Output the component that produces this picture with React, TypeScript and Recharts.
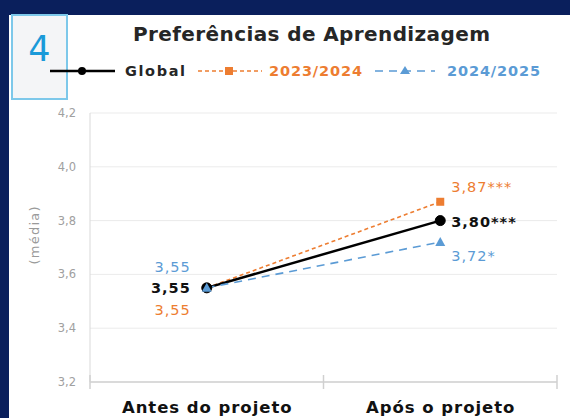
import { CartesianGrid, LabelList, Legend, Line, LineChart, XAxis, YAxis } from "recharts";

const categories = ["Antes do projeto", "Após o projeto"];
const globalValues = [3.55, 3.8];
const values2324 = [3.55, 3.87];
const values2425 = [3.55, 3.72];
const globalSig = ["", "***"];
const sig2324 = ["", "***"];
const sig2425 = ["", "*"];
const yTicks = [3.2, 3.4, 3.6, 3.8, 4.0, 4.2];
const xTicks = [0, 0.5, 1, 1.5, 2];

const NAVY = "#0a1f5c";
const ORANGE = "#ed7d31";
const BLUE = "#5b9bd5";
const FONT = "'DejaVu Sans', 'Liberation Sans', sans-serif";

const data = categories.map((name, i) => ({
  name,
  pos: i + 0.5,
  global: globalValues[i],
  y2324: values2324[i],
  y2425: values2425[i],
}));

const fmt = (v: number) => v.toFixed(2).replace(".", ",");

// label placement: left point labels sit to the left, right point labels to the right
const makeLabel =
  (color: string, sig: string[], dyLeft: number, dyRight: number, bold: boolean) => (props: any) => {
    const x = props.x ?? props.viewBox?.x;
    const y = props.y ?? props.viewBox?.y;
    const index = props.index ?? 0;
    const left = index === 0;
    return (
      <text
        x={left ? x - 16 : x + 11}
        y={y + (left ? dyLeft : dyRight)}
        dy="0.36em"
        textAnchor={left ? "end" : "start"}
        fill={color}
        fontSize={14.5}
        fontWeight={bold ? 700 : 400}
        letterSpacing={1}
        fontFamily={FONT}
      >
        {fmt(Number(props.value)) + sig[index]}
      </text>
    );
  };

const squareDot = (p: any) => (
  <rect key={`sq-${p.index}`} x={p.cx - 4} y={p.cy - 4} width={8} height={8} fill={ORANGE} />
);

const triangleDot = (p: any) => (
  <path
    key={`tr-${p.index}`}
    d={`M${p.cx},${p.cy - 5} L${p.cx + 5},${p.cy + 4} L${p.cx - 5},${p.cy + 4} Z`}
    fill={BLUE}
  />
);

const XTick = (props: any) => {
  const { x, y, payload } = props;
  const v = payload.value;
  if (Number.isInteger(v)) {
    return <line x1={x} x2={x} y1={y - 7} y2={y + 7} stroke="#d0d0d0" strokeWidth={1.5} />;
  }
  const label = categories[Math.floor(v)];
  return (
    <text
      x={x}
      y={y + 31}
      textAnchor="middle"
      fontSize={16.5}
      fontWeight={700}
      fill="#111"
      fontFamily={FONT}
      textLength={label.length * 10.6}
    >
      {label}
    </text>
  );
};

const YLabel = (props: any) => {
  const vb = props.viewBox || { y: 113, height: 269 };
  const cy = vb.y + vb.height / 2 - 12;
  return (
    <text
      x={34}
      y={cy}
      transform={`rotate(-90, 34, ${cy})`}
      textAnchor="middle"
      dy="0.35em"
      fontSize={13}
      fill="#9a9a9a"
      fontFamily={FONT}
      textLength={58}
    >
      (média)
    </text>
  );
};

const LegendContent = () => (
  <svg width={570} height={24} style={{ display: "block" }}>
    <line x1={50} x2={115} y1={12} y2={12} stroke="#000" strokeWidth={2.5} />
    <circle cx={82} cy={12} r={4} fill="#000" />
    <text x={125} y={12} dy="0.36em" fontSize={14.5} fontWeight={700} fill="#262626" fontFamily={FONT} textLength={60}>
      Global
    </text>
    <line x1={198} x2={262} y1={12} y2={12} stroke={ORANGE} strokeWidth={1.6} strokeDasharray="4 3" />
    <rect x={225} y={8} width={8} height={8} fill={ORANGE} />
    <text x={269} y={12} dy="0.36em" fontSize={14.5} fontWeight={700} fill={ORANGE} fontFamily={FONT} textLength={93}>
      2023/2024
    </text>
    <line x1={375} x2={435} y1={12} y2={12} stroke={BLUE} strokeWidth={1.6} strokeDasharray="8 6" />
    <path d="M405,7 L410,15 L400,15 Z" fill={BLUE} />
    <text x={447} y={12} dy="0.36em" fontSize={14.5} fontWeight={700} fill={BLUE} fontFamily={FONT} textLength={93}>
      2024/2025
    </text>
  </svg>
);

export default function App() {
  return (
    <div style={{ position: "absolute", left: 0, top: 0, width: 570, height: 418, background: NAVY, overflow: "hidden" }}>
      <div style={{ position: "absolute", left: 9, top: 15, width: 561, height: 403, background: "#ffffff" }} />
      <div
        style={{
          position: "absolute",
          left: 11,
          top: 14,
          width: 53,
          height: 82,
          background: "#f4f5f7",
          border: "2px solid #7dc8ea",
          color: "#1a9ad9",
          fontFamily: FONT,
          fontSize: 35,
          lineHeight: "1",
          textAlign: "center",
        }}
      >
        <div style={{ marginTop: 16 }}>4</div>
      </div>
      <div style={{ position: "absolute", left: 0, top: 0 }}>
        <LineChart width={570} height={418} data={data} margin={{ top: 113, right: 13, bottom: 0, left: 0 }}>
          <CartesianGrid vertical={false} stroke="#ebebeb" />
          <XAxis
            dataKey="pos"
            type="number"
            domain={[0, 2]}
            ticks={xTicks}
            height={36}
            tickSize={0}
            tickMargin={0}
            tickLine={false}
            axisLine={{ stroke: "#d0d0d0", strokeWidth: 1.5 }}
            tick={<XTick />}
            interval={0}
          />
          <YAxis
            type="number"
            domain={[3.2, 4.2]}
            ticks={yTicks}
            width={90}
            tickSize={0}
            tickMargin={14}
            tickLine={false}
            axisLine={{ stroke: "#d9d9d9" }}
            tick={{ fill: "#a0a0a0", fontSize: 11.5, fontFamily: FONT }}
            tickFormatter={(v: number) => v.toFixed(1).replace(".", ",")}
            label={YLabel}
          />
          <Legend
            layout="horizontal"
            verticalAlign="middle"
            align="center"
            width={570}
            content={LegendContent}
            wrapperStyle={{ top: 59, left: 0, width: 570, height: 24 }}
          />
          <Line
            dataKey="y2324"
            name="2023/2024"
            stroke={ORANGE}
            strokeWidth={1.6}
            strokeDasharray="4 3"
            dot={squareDot}
            activeDot={false}
            isAnimationActive={false}
          >
            <LabelList dataKey="y2324" content={makeLabel(ORANGE, sig2324, 22, -15, false)} />
          </Line>
          <Line
            dataKey="global"
            name="Global"
            stroke="#000"
            strokeWidth={2.5}
            dot={{ r: 5, fill: "#000", stroke: "#000", strokeWidth: 1 }}
            activeDot={false}
            isAnimationActive={false}
          >
            <LabelList dataKey="global" content={makeLabel("#111", globalSig, 0, 1, true)} />
          </Line>
          <Line
            dataKey="y2425"
            name="2024/2025"
            stroke={BLUE}
            strokeWidth={1.6}
            strokeDasharray="8 6"
            dot={triangleDot}
            activeDot={false}
            isAnimationActive={false}
          >
            <LabelList dataKey="y2425" content={makeLabel(BLUE, sig2425, -21, 14, false)} />
          </Line>
        </LineChart>
      </div>
      <svg style={{ position: "absolute", left: 0, top: 0 }} width={570} height={50}>
        <text
          x={311.5}
          y={41}
          textAnchor="middle"
          fontSize={20}
          fontWeight={700}
          fill="#262626"
          fontFamily={FONT}
          textLength={357}
        >
          Preferências de Aprendizagem
        </text>
      </svg>
    </div>
  );
}
